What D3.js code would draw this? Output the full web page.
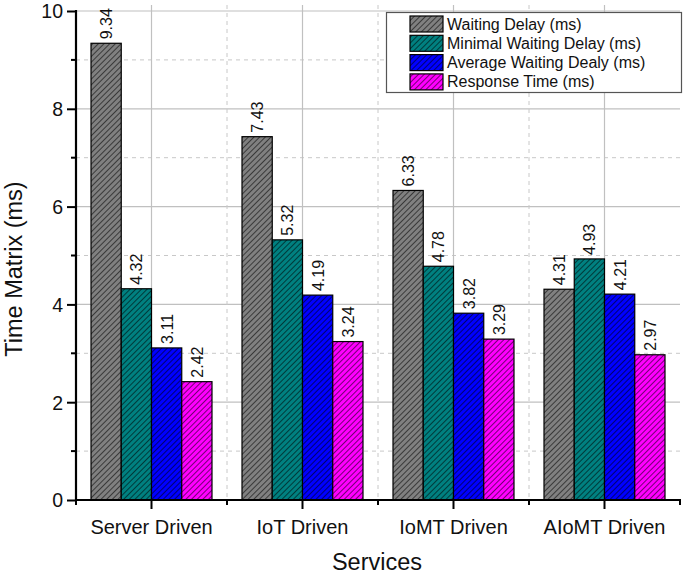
<!DOCTYPE html>
<html><head><meta charset="utf-8">
<script src="https://cdn.jsdelivr.net/npm/d3@7"></script>
<style>body{margin:0;background:#fff;}svg{display:block;font-family:"Liberation Sans",Arial,sans-serif;}</style>
</head><body>
<script>
const categories = ["Server Driven","IoT Driven","IoMT Driven","AIoMT Driven"];
const seriesNames = ["Waiting Delay (ms)","Minimal Waiting Delay (ms)","Average Waiting Dealy (ms)","Response Time (ms)"];
const waitingDelay = [9.34, 7.43, 6.33, 4.31];
const minimalWaitingDelay = [4.32, 5.32, 4.78, 4.93];
const averageWaitingDelay = [3.11, 4.19, 3.82, 4.21];
const responseTime = [2.42, 3.24, 3.29, 2.97];
const colors = ["#808080","#008080","#0000ff","#ff00ff"];
const yTicks = [0,2,4,6,8,10];
const yMinorTicks = [1,3,5,7,9];

const series = [waitingDelay, minimalWaitingDelay, averageWaitingDelay, responseTime];
const W=685,H=574;
const svg=d3.select("body").append("svg").attr("width",W).attr("height",H);
const defs=svg.append("defs");
colors.forEach((c,i)=>{
  const p=defs.append("pattern").attr("id","hatch"+i).attr("patternUnits","userSpaceOnUse")
    .attr("width",4).attr("height",4).attr("patternTransform","rotate(45)");
  p.append("rect").attr("width",4).attr("height",4).attr("fill",c);
  p.append("line").attr("x1",0).attr("y1",0).attr("x2",0).attr("y2",4).attr("stroke","#000").attr("stroke-width",1.1);
});
const x=d3.scaleBand().domain(categories).range([76,680]).paddingInner(0).paddingOuter(0);
const y=d3.scaleLinear().domain([0,10]).range([500,11]);
const xs=d3.scaleBand().domain(d3.range(4)).range([0,121]);
const off=(x.bandwidth()-121)/2;

const g=svg.append("g");
// grid
g.selectAll(".hg").data(yTicks.filter(d=>d>0)).join("line").attr("x1",76).attr("x2",680)
  .attr("y1",d=>y(d)).attr("y2",d=>y(d)).attr("stroke","#c0c0c0").attr("stroke-width",1.2);
g.selectAll(".hm").data(yMinorTicks).join("line").attr("x1",76).attr("x2",680)
  .attr("y1",d=>y(d)).attr("y2",d=>y(d)).attr("stroke","#c8c8c8").attr("stroke-width",1).attr("stroke-dasharray","4,4");
g.selectAll(".vg").data(categories).join("line").attr("x1",d=>x(d)+x.bandwidth()/2).attr("x2",d=>x(d)+x.bandwidth()/2)
  .attr("y1",5).attr("y2",500).attr("stroke","#c0c0c0").attr("stroke-width",1.2);
g.selectAll(".vm").data(categories.slice(1)).join("line").attr("x1",d=>x(d)).attr("x2",d=>x(d))
  .attr("y1",5).attr("y2",500).attr("stroke","#c8c8c8").attr("stroke-width",1).attr("stroke-dasharray","4,4");

// bars
series.forEach((vals,si)=>{
  g.selectAll(".b"+si).data(vals).join("rect")
    .attr("x",(d,i)=>x(categories[i])+off+xs(si)).attr("width",xs.bandwidth())
    .attr("y",d=>y(d)).attr("height",d=>500-y(d))
    .attr("fill","url(#hatch"+si+")").attr("stroke","#000").attr("stroke-width",1.2);
  g.selectAll(".l"+si).data(vals).join("text")
    .attr("transform",(d,i)=>`translate(${x(categories[i])+off+xs(si)+xs.bandwidth()/2+6},${y(d)-4}) rotate(-90)`)
    .attr("font-size",16).attr("fill","#111").text(d=>d.toFixed(2));
});

// axes
const ya=d3.axisLeft(y).tickValues(yTicks).tickSize(9).tickFormat(d3.format("d"));
const yag=svg.append("g").attr("transform","translate(76,0)").call(ya);
yag.select(".domain").remove();
yag.selectAll("line").attr("stroke","#000").attr("stroke-width",2);
yag.selectAll("text").attr("font-size",19.5).attr("fill","#111").attr("x",-13).attr("dy","0.35em").attr("font-family","Liberation Sans, Arial, sans-serif");
svg.append("g").selectAll("line").data(yMinorTicks).join("line").attr("x1",71).attr("x2",76)
  .attr("y1",d=>y(d)).attr("y2",d=>y(d)).attr("stroke","#000").attr("stroke-width",2);
svg.append("line").attr("x1",76).attr("x2",76).attr("y1",10).attr("y2",501).attr("stroke","#000").attr("stroke-width",2.2);

const xa=d3.axisBottom(x).tickSize(9);
const xag=svg.append("g").attr("transform","translate(0,500)").call(xa);
xag.select(".domain").remove();
xag.selectAll("line").attr("stroke","#000").attr("stroke-width",2);
xag.selectAll("text").attr("font-size",20).attr("fill","#111").attr("y",20).attr("dy","0.71em").attr("font-family","Liberation Sans, Arial, sans-serif");
svg.append("g").selectAll("line").data(d3.range(5)).join("line")
  .attr("x1",i=>i<4?x(categories[i]):680).attr("x2",i=>i<4?x(categories[i]):680)
  .attr("y1",500).attr("y2",505).attr("stroke","#000").attr("stroke-width",2);
svg.append("line").attr("x1",75).attr("x2",681).attr("y1",500).attr("y2",500).attr("stroke","#000").attr("stroke-width",2.2);

// titles
svg.append("text").attr("transform","translate(22,269) rotate(-90)").attr("text-anchor","middle")
  .attr("font-size",23.5).attr("fill","#111").text("Time Matrix (ms)");
svg.append("text").attr("x",377).attr("y",570).attr("text-anchor","middle")
  .attr("font-size",23.5).attr("fill","#111").text("Services");

// legend
const lg=svg.append("g");
lg.append("rect").attr("x",386.5).attr("y",12.5).attr("width",295).attr("height",80)
  .attr("fill","#fff").attr("stroke","#555").attr("stroke-width",1.2);
seriesNames.forEach((n,i)=>{
  const yy=16+i*19.3;
  lg.append("rect").attr("x",410).attr("y",yy).attr("width",33).attr("height",16)
    .attr("fill","url(#hatch"+i+")").attr("stroke","#000").attr("stroke-width",1.2);
  lg.append("text").attr("x",447).attr("y",yy+13.5).attr("font-size",16).attr("fill","#111").text(n);
});
</script>
</body></html>
